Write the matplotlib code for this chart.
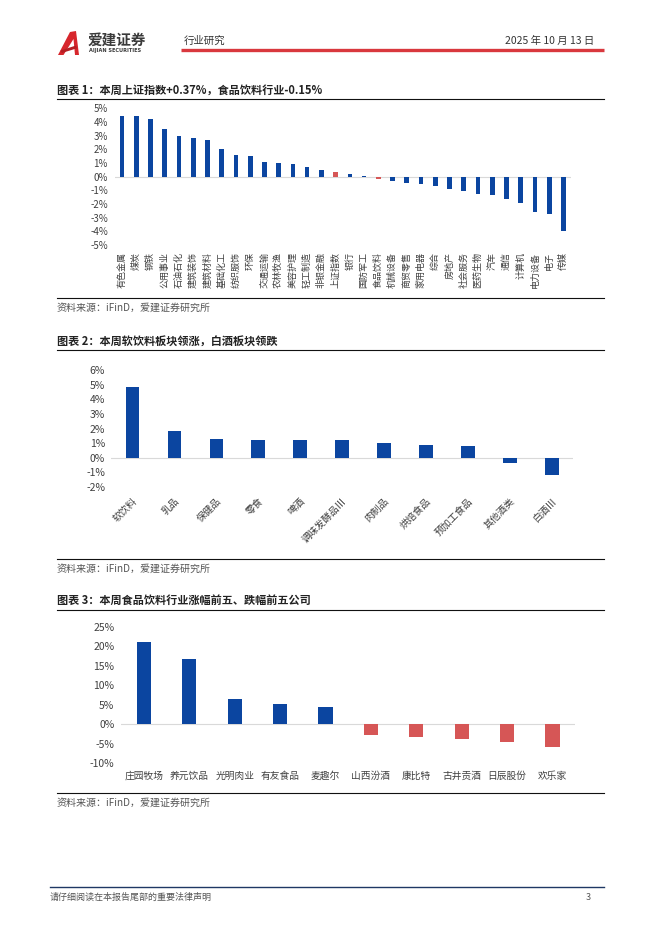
import matplotlib
matplotlib.use('Agg')
import matplotlib.pyplot as plt
from matplotlib.patches import Polygon
import numpy as np

plt.rcParams['font.family'] = ['Noto Sans CJK SC', 'DejaVu Sans']
plt.rcParams['axes.unicode_minus'] = False

W, H = 662, 936
BLUE = '#0B45A0'
RED = '#D65656'
TXT = '#404040'

# chart 1: industry weekly change (%)
cats1 = ['有色金属', '煤炭', '钢铁', '公用事业', '石油石化', '建筑装饰', '建筑材料', '基础化工',
         '纺织服饰', '环保', '交通运输', '农林牧渔', '美容护理', '轻工制造', '非银金融', '上证指数',
         '银行', '国防军工', '食品饮料', '机械设备', '商贸零售', '家用电器', '综合', '房地产',
         '社会服务', '医药生物', '汽车', '通信', '计算机', '电力设备', '电子', '传媒']
vals1 = [4.46, 4.41, 4.21, 3.45, 2.98, 2.83, 2.66, 2.00, 1.58, 1.48, 1.06, 1.01, 0.91, 0.69,
         0.49, 0.37, 0.22, 0.05, -0.15, -0.30, -0.47, -0.54, -0.71, -0.89, -1.08, -1.28,
         -1.33, -1.67, -1.90, -2.61, -2.71, -3.94]
red1 = ['上证指数', '食品饮料']
ticks1 = [5, 4, 3, 2, 1, 0, -1, -2, -3, -4, -5]

# chart 2: food & beverage sub-sectors (%)
cats2 = ['软饮料', '乳品', '保健品', '零食', '啤酒', '调味发酵品Ⅲ', '肉制品', '烘焙食品',
         '预加工食品', '其他酒类', '白酒Ⅲ']
vals2 = [4.82, 1.82, 1.30, 1.20, 1.20, 1.20, 1.02, 0.89, 0.82, -0.34, -1.18]
ticks2 = [6, 5, 4, 3, 2, 1, 0, -1, -2]

# chart 3: top 5 gainers / losers (%)
cats3 = ['庄园牧场', '养元饮品', '光明肉业', '有友食品', '麦趣尔', '山西汾酒', '康比特',
         '古井贡酒', '日辰股份', '欢乐家']
vals3 = [21.1, 16.8, 6.5, 5.3, 4.5, -2.75, -3.2, -3.9, -4.5, -5.9]
ticks3 = [25, 20, 15, 10, 5, 0, -5, -10]


def add_ax(x0, y0, x1, y1):
    return fig.add_axes([x0 / W, 1 - y1 / H, (x1 - x0) / W, (y1 - y0) / H])


def style(ax, ticks, fs, pad):
    for s in ax.spines.values():
        s.set_visible(False)
    ax.axhline(0, color='#D9D9D9', lw=0.8, zorder=1)
    ax.set_yticks(ticks)
    ax.set_yticklabels([f'{t}%' for t in ticks])
    ax.tick_params(axis='y', length=0, labelsize=fs, colors=TXT, pad=pad)
    ax.set_facecolor('none')


fig = plt.figure(figsize=(W / 100, H / 100), dpi=100)

# page overlay in pixel coordinates
page = fig.add_axes([0, 0, 1, 1])
page.set_xlim(0, W)
page.set_ylim(H, 0)
page.axis('off')

# header
page.add_patch(Polygon([(58, 55), (70, 32), (76, 31), (79, 55), (75, 55), (73.5, 39), (63.5, 55)],
                       closed=True, color='#D7262C', lw=0))
page.add_patch(Polygon([(60.5, 50.5), (76, 45.5), (77, 48.3), (61.8, 53)],
                       closed=True, color='#B51F24', lw=0))
page.text(88, 40, '爱建证券', fontsize=10.5, fontweight='bold', color='#3A3A3A', va='center', ha='left')
page.text(89, 50.5, 'AIJIAN SECURITIES', fontsize=3.6, fontweight='bold', color='#3A3A3A',
          va='center', ha='left', family='DejaVu Sans')
page.text(184, 41, '行业研究', fontsize=7.5, color='#333333', va='center', ha='left')
page.text(594, 41, '2025 年 10 月 13 日', fontsize=7.5, color='#333333', va='center', ha='right')
page.plot([181, 604], [49.5, 49.5], color='#D9383E', lw=2.4, solid_capstyle='butt')

# section titles and rules
titles = [('图表 1：本周上证指数+0.37%，食品饮料行业-0.15%', 90, 99, 298, 308),
          ('图表 2：本周软饮料板块领涨，白酒板块领跌', 341, 350, 559, 569),
          ('图表 3：本周食品饮料行业涨幅前五、跌幅前五公司', 600, 610, 793, 803)]
for t, ty, l1, l2, sy in titles:
    page.text(57, ty, t, fontsize=8, fontweight='bold', color='#222222', va='center', ha='left')
    page.plot([57, 604], [l1, l1], color='#111111', lw=0.8)
    page.plot([57, 604], [l2, l2], color='#111111', lw=0.8)
    page.text(57, sy, '资料来源：iFinD，爱建证券研究所', fontsize=7.2, color='#555555',
              va='center', ha='left')

# footer
page.plot([50, 604], [887, 887], color='#1F3864', lw=1.0)
page.text(50, 897, '请仔细阅读在本报告尾部的重要法律声明', fontsize=6.5, color='#555555',
          va='center', ha='left')
page.text(591, 897, '3', fontsize=6.5, color='#555555', va='center', ha='right')

# chart 1
ax1 = add_ax(114.9, 108.3, 570.6, 245)
x1 = np.arange(len(cats1))
c1 = [RED if c in red1 else BLUE for c in cats1]
ax1.bar(x1, vals1, width=0.33, color=c1, zorder=2)
ax1.set_xlim(-0.5, len(cats1) - 0.5)
ax1.set_ylim(-5, 5)
style(ax1, ticks1, 7, 5)
ax1.set_xticks(x1)
ax1.set_xticklabels(cats1, rotation=90, fontsize=6.5, color=TXT, va='top', ha='center')
ax1.tick_params(axis='x', length=0, pad=5)

# chart 2
ax2 = add_ax(111.4, 370, 572.8, 487)
x2 = np.arange(len(cats2))
ax2.bar(x2, vals2, width=0.32, color=BLUE, zorder=2)
ax2.set_xlim(-0.5, len(cats2) - 0.5)
ax2.set_ylim(-2, 6)
style(ax2, ticks2, 7.5, 4.5)
ax2.set_xticks(x2 + 0.08)
ax2.set_xticklabels(cats2, rotation=45, fontsize=7, color=TXT, ha='right', va='center',
                    rotation_mode='anchor')
ax2.tick_params(axis='x', length=0, pad=9)

# chart 3
ax3 = add_ax(121.2, 627, 575.2, 763)
x3 = np.arange(len(cats3))
c3 = [BLUE if v >= 0 else RED for v in vals3]
ax3.bar(x3, vals3, width=0.31, color=c3, zorder=2)
ax3.set_xlim(-0.5, len(cats3) - 0.5)
ax3.set_ylim(-10, 25)
style(ax3, ticks3, 7.5, 5)
ax3.set_xticks([])
for xi, lab in zip(x3, cats3):
    ax3.text(xi, -0.115, lab, transform=ax3.get_xaxis_transform(), fontsize=7, color=TXT,
             ha='center', va='baseline')

fig.savefig('out.png', dpi=100)
